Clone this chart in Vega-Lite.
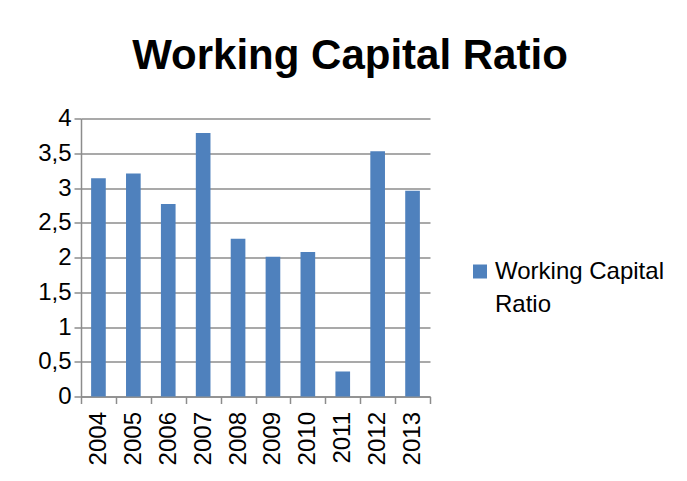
{
  "$schema": "https://vega.github.io/schema/vega-lite/v6.json",
  "width": 349,
  "height": 278,
  "autosize": {"type": "none"},
  "padding": {"left": 81, "top": 118.5, "right": 257, "bottom": 84.5},
  "background": "white",
  "title": {
    "text": "Working Capital Ratio",
    "font": "Liberation Sans",
    "fontSize": 42,
    "fontWeight": "bold",
    "color": "black",
    "anchor": "middle",
    "frame": "group",
    "dx": 94.5,
    "baseline": "alphabetic",
    "offset": -4
  },
  "data": {
    "values": [
      {"year": "2004", "ratio": 3.14, "series": "Working Capital Ratio"},
      {"year": "2005", "ratio": 3.21, "series": "Working Capital Ratio"},
      {"year": "2006", "ratio": 2.77, "series": "Working Capital Ratio"},
      {"year": "2007", "ratio": 3.79, "series": "Working Capital Ratio"},
      {"year": "2008", "ratio": 2.27, "series": "Working Capital Ratio"},
      {"year": "2009", "ratio": 2.01, "series": "Working Capital Ratio"},
      {"year": "2010", "ratio": 2.08, "series": "Working Capital Ratio"},
      {"year": "2011", "ratio": 0.36, "series": "Working Capital Ratio"},
      {"year": "2012", "ratio": 3.53, "series": "Working Capital Ratio"},
      {"year": "2013", "ratio": 2.96, "series": "Working Capital Ratio"}
    ]
  },
  "mark": {"type": "bar", "width": {"band": 0.42}},
  "encoding": {
    "x": {
      "field": "year",
      "type": "nominal",
      "scale": {"paddingInner": 0, "paddingOuter": 0},
      "axis": {
        "title": null,
        "labelAngle": -90,
        "labelAlign": "right",
        "labelBaseline": "middle",
        "labelPadding": 8,
        "tickSize": 7,
        "tickBand": "extent",
        "tickColor": "#8c8c8c",
        "tickWidth": 1.5,
        "domainColor": "#8c8c8c",
        "domainWidth": 1.5,
        "labelFont": "Liberation Sans",
        "labelFontSize": 24,
        "labelColor": "black",
        "grid": false
      }
    },
    "y": {
      "field": "ratio",
      "type": "quantitative",
      "scale": {"domain": [0, 4]},
      "axis": {
        "title": null,
        "values": [0, 0.5, 1, 1.5, 2, 2.5, 3, 3.5, 4],
        "labelExpr": "replace(toString(datum.value), '.', ',')",
        "tickSize": 7,
        "tickColor": "#8c8c8c",
        "tickWidth": 1.5,
        "domainColor": "#8c8c8c",
        "domainWidth": 1.5,
        "grid": true,
        "gridColor": "#8c8c8c",
        "gridWidth": 1.5,
        "labelPadding": 3,
        "labelFont": "Liberation Sans",
        "labelFontSize": 24,
        "labelColor": "black"
      }
    },
    "color": {
      "field": "series",
      "type": "nominal",
      "scale": {"range": ["#4f81bd"]},
      "legend": {
        "title": null,
        "orient": "none",
        "legendX": 387,
        "legendY": 148,
        "padding": 0,
        "symbolType": "M-1,-2H1V0H-1Z",
        "symbolSize": 196,
        "symbolStrokeWidth": 0,
        "symbolOpacity": 1,
        "labelFont": "Liberation Sans",
        "labelFontSize": 24,
        "labelColor": "black",
        "labelBaseline": "alphabetic",
        "labelOffset": 3,
        "labelLimit": 300,
        "labelExpr": "['Working Capital', 'Ratio']"
      }
    }
  },
  "config": {
    "view": {"stroke": null},
    "style": {"guide-label": {"lineHeight": 33}}
  }
}
